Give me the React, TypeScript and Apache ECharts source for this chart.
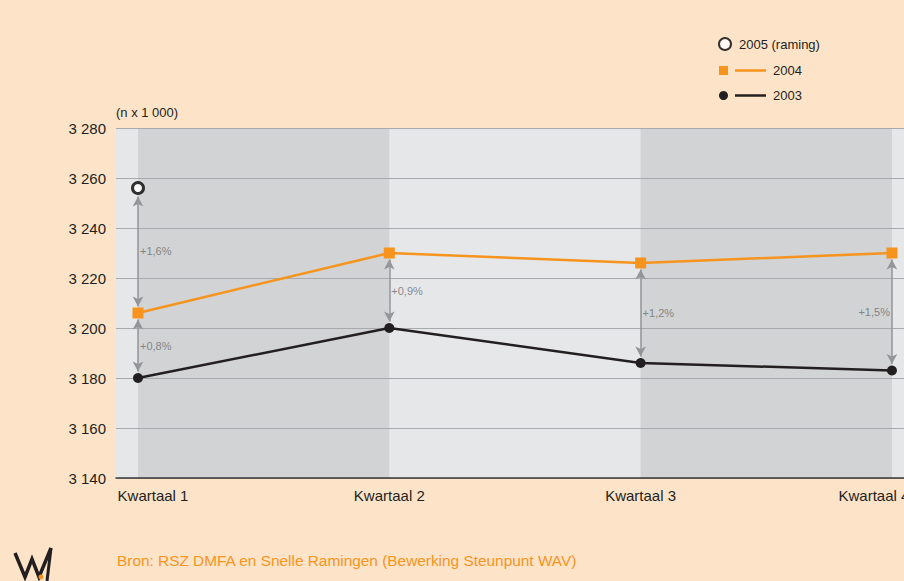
import React, { useEffect, useRef } from "react";
import * as echarts from "echarts";

const categories = ["Kwartaal 1", "Kwartaal 2", "Kwartaal 3", "Kwartaal 4"];
const values2003 = [3180, 3200, 3186, 3183];
const values2004 = [3206, 3230, 3226, 3230];
const values2005 = [3256];
const growth2004vs2003 = ["+0,8%", "+0,9%", "+1,2%", "+1,5%"];
const growth2005vs2004 = ["+1,6%"];
const yMin = 3140;
const yMax = 3280;
const yStep = 20;
const sourceText = "Bron: RSZ DMFA en Snelle Ramingen (Bewerking Steunpunt WAV)";
const unitText = "(n x 1 000)";

const FONT = "'Liberation Sans', Arial, sans-serif";
const ORANGE = "#f7941d";
const BLACK = "#231f20";
const ARROW = "#939598";
const GAP = 2.6;

export default function App() {
  const ref = useRef<HTMLDivElement>(null);
  useEffect(() => {
    if (!ref.current) return;
    const chart = echarts.init(ref.current, null, { renderer: "svg" });
    const idx = categories.map((_, i) => i);

    const arrowPairs: any[] = idx.map((i) => [
      { coord: [i, values2003[i] + GAP] },
      { coord: [i, values2004[i] - GAP] },
    ]);
    values2005.forEach((v, i) => {
      arrowPairs.push([{ coord: [i, values2004[i] + GAP] }, { coord: [i, v - GAP - 0.8] }]);
    });

    const labelData: any[] = idx.map((i) => ({
      value: [i, (values2003[i] + values2004[i]) / 2],
      label: {
        show: true,
        formatter: growth2004vs2003[i],
        position: i === categories.length - 1 ? "left" : "right",
        distance: 2,
      },
    }));
    values2005.forEach((v, i) => {
      labelData.push({
        value: [i, (values2004[i] + v) / 2],
        label: { show: true, formatter: growth2005vs2004[i], position: "right", distance: 2 },
      });
    });

    const option: any = {
      animation: false,
      backgroundColor: "#fde4c9",
      textStyle: { fontFamily: FONT },
      grid: {
        left: 116,
        right: 0,
        top: 128,
        bottom: 103,
        show: true,
        backgroundColor: "#e6e7e8",
        borderWidth: 0,
        containLabel: false,
        outerBoundsMode: "none",
      },
      legend: [
        {
          data: [{ name: "2005 (raming)", icon: "circle" }],
          left: 713,
          top: 32,
          itemWidth: 12,
          itemHeight: 12,
          textStyle: { fontSize: 13, color: BLACK, fontFamily: FONT, padding: [0, 0, 0, 3] },
          selectedMode: false,
        },
        {
          data: [
            { name: "2004", icon: "path://M0,0h9v9h-9z M16,3.3h31v2.4h-31z" },
            {
              name: "2003",
              icon: "path://M4.5,0a4.5,4.5 0 1,0 0.01,0z M16,3.3h31v2.4h-31z",
            },
          ],
          orient: "vertical",
          left: 714,
          top: 59,
          itemWidth: 47,
          itemHeight: 9,
          itemGap: 12,
          textStyle: { fontSize: 13, color: BLACK, fontFamily: FONT, padding: [0, 0, 0, 2] },
          selectedMode: false,
        },
      ],
      xAxis: {
        type: "value",
        min: -0.0875,
        max: 3.048,
        z: 2,
        axisLine: { show: true, onZero: false, lineStyle: { color: "#3a3a3a", width: 1.5 } },
        axisTick: { show: false },
        splitLine: { show: false },
        axisLabel: {
          customValues: idx,
          margin: 10,
          color: BLACK,
          fontSize: 15,
          fontFamily: FONT,
          formatter: (v: number) => {
            const i = Math.round(v);
            const name = categories[i] ?? "";
            if (i === 0) return "{first|" + name + "}";
            if (i === categories.length - 1) return "{last|" + name + "}";
            return "{n|" + name + "}";
          },
          rich: {
            first: { padding: [0, 0, 0, 30], fontSize: 15, color: BLACK, fontFamily: FONT },
            last: { padding: [0, 36, 0, 0], fontSize: 15, color: BLACK, fontFamily: FONT },
            n: { fontSize: 15, color: BLACK, fontFamily: FONT },
          },
        },
      },
      yAxis: {
        type: "value",
        min: yMin,
        max: yMax,
        interval: yStep,
        z: 2,
        name: unitText,
        nameLocation: "end",
        nameGap: 9,
        nameTextStyle: { align: "left", fontSize: 13, color: BLACK, fontFamily: FONT },
        axisLine: { show: false, onZero: false },
        axisTick: { show: false },
        axisLabel: {
          margin: 10,
          color: BLACK,
          fontSize: 15,
          fontFamily: FONT,
          formatter: (v: number) => {
            const s = String(Math.round(v));
            return s.replace(/\B(?=(\d{3})+(?!\d))/g, " ");
          },
        },
        splitLine: { show: true, lineStyle: { color: "#a7a9ac", width: 1 } },
      },
      series: [
        {
          name: "bands",
          type: "line",
          data: [],
          z: 1,
          silent: true,
          markArea: {
            silent: true,
            itemStyle: { color: "#d1d3d4" },
            data: [
              [{ xAxis: 0 }, { xAxis: 1 }],
              [{ xAxis: 2 }, { xAxis: 3 }],
            ],
          },
        },
        {
          name: "arrows",
          type: "line",
          data: [],
          z: 3,
          silent: true,
          markLine: {
            silent: true,
            symbol: ["arrow", "arrow"],
            symbolSize: [8, 10],
            label: { show: false },
            emphasis: { disabled: true },
            lineStyle: { color: ARROW, width: 1.5, type: "solid" },
            data: arrowPairs,
          },
        },
        {
          name: "labels",
          type: "scatter",
          symbolSize: 0,
          z: 3,
          silent: true,
          label: { fontSize: 11, color: "#6d6e71", fontFamily: FONT },
          data: labelData,
        },
        {
          name: "2003",
          type: "line",
          z: 4,
          data: values2003.map((v, i) => [i, v]),
          color: BLACK,
          symbol: "circle",
          symbolSize: 10,
          lineStyle: { color: BLACK, width: 2.5 },
          itemStyle: { color: BLACK },
        },
        {
          name: "2004",
          type: "line",
          z: 4,
          data: values2004.map((v, i) => [i, v]),
          color: ORANGE,
          symbol: "rect",
          symbolSize: 11,
          lineStyle: { color: ORANGE, width: 2.5 },
          itemStyle: { color: ORANGE },
        },
        {
          name: "2005 (raming)",
          type: "scatter",
          z: 5,
          data: values2005.map((v, i) => [i, v]),
          symbol: "circle",
          symbolSize: 11,
          itemStyle: { color: "#ffffff", borderColor: "#000000", borderWidth: 3 },
        },
      ],
      graphic: [
        {
          type: "text",
          left: 117,
          top: 553,
          style: { text: sourceText, fill: ORANGE, fontSize: 15.4, fontFamily: FONT },
        },
        {
          type: "polyline",
          shape: {
            points: [
              [15, 553],
              [25, 577],
              [32, 559],
              [39, 577],
              [51, 548],
            ],
          },
          style: { stroke: BLACK, lineWidth: 3.5, fill: "none" },
        },
        {
          type: "line",
          shape: { x1: 51, y1: 548, x2: 47, y2: 581 },
          style: { stroke: BLACK, lineWidth: 3 },
        },
        {
          type: "circle",
          shape: { cx: 41, cy: 577, r: 2.5 },
          style: { fill: ORANGE },
        },
      ],
    };
    chart.setOption(option);
    return () => chart.dispose();
  }, []);
  return (
    <div
      ref={ref}
      style={{ position: "fixed", left: 0, top: 0, width: 904, height: 581 }}
    />
  );
}
